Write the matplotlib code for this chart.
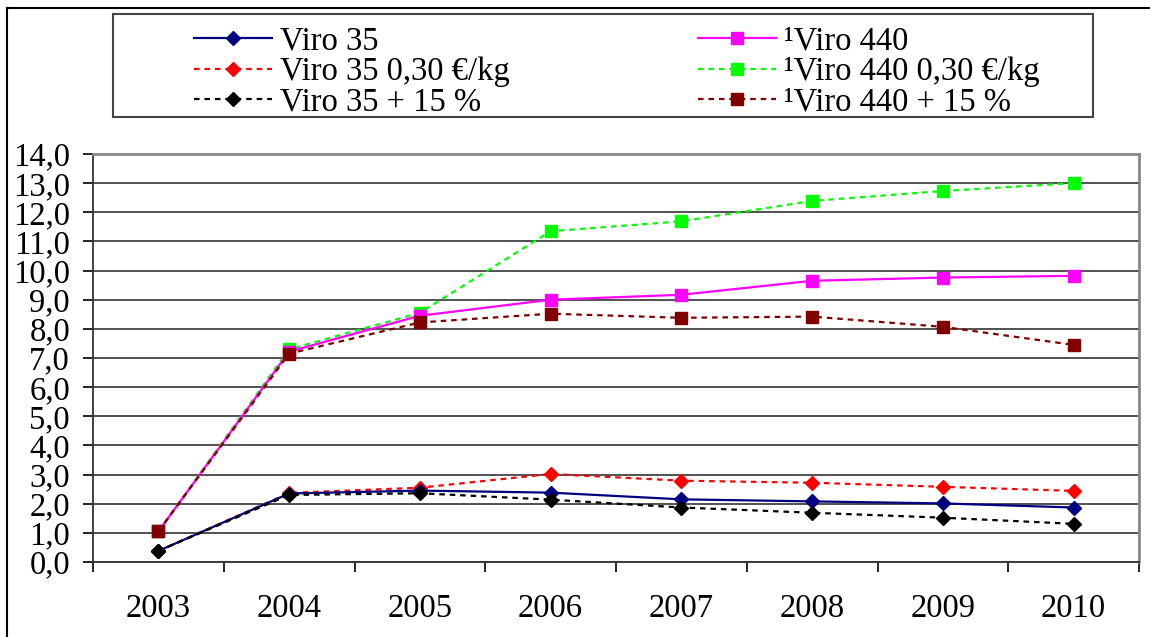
import matplotlib
matplotlib.use("Agg")
import matplotlib.pyplot as plt
from matplotlib.lines import Line2D
from matplotlib.patches import Rectangle

plt.rcParams['font.family'] = ['Liberation Serif', 'DejaVu Serif']

years = ["2003", "2004", "2005", "2006", "2007", "2008", "2009", "2010"]
viro35 = [0.38, 2.35, 2.45, 2.38, 2.15, 2.08, 2.01, 1.87]
viro35_030 = [0.38, 2.37, 2.55, 3.02, 2.79, 2.72, 2.58, 2.44]
viro35_15 = [0.38, 2.30, 2.36, 2.14, 1.87, 1.69, 1.52, 1.31]
viro440 = [1.05, 7.22, 8.45, 9.00, 9.17, 9.65, 9.76, 9.82]
viro440_030 = [1.05, 7.30, 8.55, 11.35, 11.69, 12.39, 12.73, 13.0]
viro440_15 = [1.05, 7.15, 8.22, 8.52, 8.38, 8.42, 8.07, 7.45]
yticks = [0, 1, 2, 3, 4, 5, 6, 7, 8, 9, 10, 11, 12, 13, 14]
labels = ["Viro 35", "Viro 35 0,30 €/kg", "Viro 35 + 15 %",
          "¹Viro 440", "¹Viro 440 0,30 €/kg", "¹Viro 440 + 15 %"]

W, H = 1150, 637
FS = 23.5
fig = plt.figure(figsize=(W / 100, H / 100), dpi=100)
ax = fig.add_axes([93 / W, 1 - 562 / H, (1139 - 93) / W, (562 - 154) / H])

x = list(range(len(years)))
dash = (0, (2.5, 2.2))
ax.plot(x, viro35, color='#000080', lw=1.6, marker='D', ms=7.5, label=labels[0], zorder=5)
ax.plot(x, viro35_030, color='#FF0000', lw=1.6, ls=dash, marker='D', ms=7.5, label=labels[1], zorder=4)
ax.plot(x, viro35_15, color='#000000', lw=1.6, ls=dash, marker='D', ms=7.5, label=labels[2], zorder=6)
ax.plot(x, viro440, color='#FF00FF', lw=1.6, marker='s', ms=8.5, label=labels[3], zorder=5)
ax.plot(x, viro440_030, color='#00FF00', lw=1.6, ls=dash, marker='s', ms=8.5, label=labels[4], zorder=4)
ax.plot(x, viro440_15, color='#800000', lw=1.6, ls=dash, marker='s', ms=8.5, label=labels[5], zorder=6)

ax.set_xlim(-0.5, len(years) - 0.5)
ax.set_ylim(0, 14)
ax.set_yticks(yticks)
ax.set_yticklabels([f"{v:.1f}".replace('.', ',') for v in yticks], fontsize=FS)
ax.set_xticks(x)
ax.set_xticklabels(years, fontsize=FS)
ax.tick_params(axis='x', length=0, pad=23)
ax.set_xticks([i - 0.5 for i in range(len(years) + 1)], minor=True)
ax.tick_params(axis='x', which='minor', length=7.5, width=1.2, direction='out', color='black')
ax.tick_params(axis='y', length=7.5, width=1.2, direction='out', pad=9)
ax.yaxis.grid(True, color='#222222', lw=1.1)
ax.set_axisbelow(True)
for s in ['left', 'bottom']:
    ax.spines[s].set_color('#333333')
    ax.spines[s].set_linewidth(1.3)
for s in ['top', 'right']:
    ax.spines[s].set_color('#888888')
    ax.spines[s].set_linewidth(2)

# legend box
fig.patches.append(Rectangle((113 / W, 1 - 117 / H), (1093 - 113) / W, (117 - 14) / H,
                             transform=fig.transFigure, fill=False, edgecolor='#444444', lw=1.5))
handles, labs = ax.get_legend_handles_labels()
leg = fig.legend(handles, labs, ncol=2, loc='center',
                 bbox_to_anchor=(617 / W, 1 - 72 / H), frameon=False, fontsize=FS,
                 handlelength=2.4, handletextpad=0.25, columnspacing=5.75,
                 labelspacing=0.0, borderpad=0)

# figure border (top and left)
fig.add_artist(Line2D([7 / W, 7 / W], [0, 1 - 8 / H], transform=fig.transFigure, color='black', lw=1.5))
fig.add_artist(Line2D([7 / W, 1], [1 - 8 / H, 1 - 8 / H], transform=fig.transFigure, color='black', lw=1.5))

fig.savefig("out.png", dpi=100)
